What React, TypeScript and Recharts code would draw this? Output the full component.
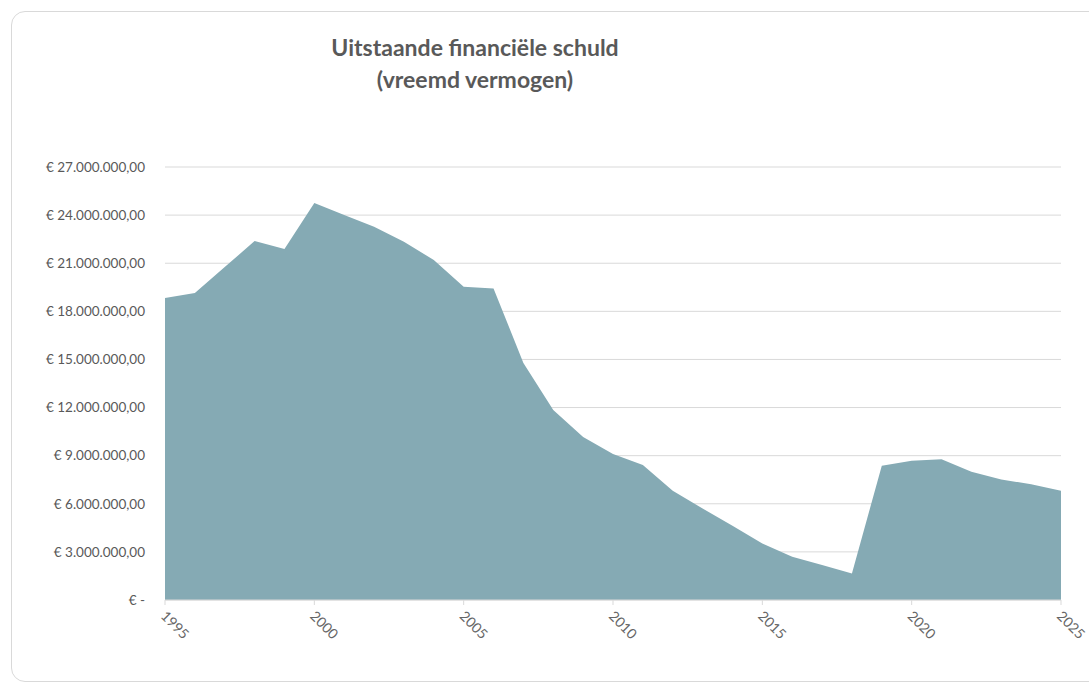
import { AreaChart, Area, XAxis, YAxis, CartesianGrid } from "recharts";

const years = [
    1995, 1996, 1997, 1998, 1999, 2000, 2001, 2002, 2003, 2004, 2005, 2006,
    2007, 2008, 2009, 2010, 2011, 2012, 2013, 2014, 2015, 2016, 2017, 2018,
    2019, 2020, 2021, 2022, 2023, 2024, 2025,
];

// uitstaande schuld in euro
const debt = [
    18830000, 19140000, 20760000, 22380000, 21880000, 24750000, 24000000,
    23270000, 22340000, 21200000, 19530000, 19430000, 14780000, 11850000,
    10160000, 9100000, 8420000, 6810000, 5710000, 4630000, 3530000, 2700000,
    2180000, 1660000, 8370000, 8690000, 8770000, 8000000, 7520000, 7210000,
    6810000,
];

const xTicks = [1995, 2000, 2005, 2010, 2015, 2020, 2025];
const yTicks = [
    0, 3000000, 6000000, 9000000, 12000000, 15000000, 18000000, 21000000,
    24000000, 27000000,
];

const data = years.map((y, i) => ({ year: y, value: debt[i] }));

const FONT = "Lato, 'Open Sans', sans-serif";

function euro(v: number) {
    if (v === 0) return "€ -";
    const s = String(Math.round(v)).replace(/\B(?=(\d{3})+(?!\d))/g, ".");
    return `€ ${s},00`;
}

function YearTick(props: any) {
    const { x, y, payload } = props;
    return (
        <text
            x={x - 5}
            y={y + 10}
            transform={`rotate(45, ${x - 5}, ${y + 10})`}
            fontSize={14}
            fill="#666666"
            fontFamily={FONT}
            textAnchor="start"
        >
            {payload.value}
        </text>
    );
}

export default function App() {
    return (
        <div style={{ position: "absolute", left: 0, top: 0, width: 1089, height: 687, overflow: "hidden", fontFamily: FONT }}>
            <div
                style={{
                    position: "absolute",
                    left: 11,
                    top: 11,
                    width: 1100,
                    height: 671,
                    border: "1.5px solid #d9d9d9",
                    borderRadius: 14,
                    boxSizing: "border-box",
                }}
            />
            <div
                style={{
                    position: "absolute",
                    left: 275,
                    top: 31,
                    width: 400,
                    textAlign: "center",
                    fontSize: 23,
                    fontWeight: 700,
                    color: "#595959",
                    lineHeight: "32px",
                }}
            >
                Uitstaande financiële schuld
                <br />
                (vreemd vermogen)
            </div>
            <div style={{ position: "absolute", left: 0, top: 0 }}>
                <AreaChart
                    width={1089}
                    height={687}
                    data={data}
                    margin={{ top: 167, right: 28, bottom: 27, left: 15 }}
                >
                    <CartesianGrid vertical={false} stroke="#d9d9d9" />
                    <XAxis
                        dataKey="year"
                        type="number"
                        domain={[1995, 2025]}
                        ticks={xTicks}
                        interval={0}
                        height={60}
                        stroke="#d9d9d9"
                        tickSize={5}
                        tick={<YearTick />}
                    />
                    <YAxis
                        type="number"
                        domain={[0, 27000000]}
                        ticks={yTicks}
                        interval={0}
                        width={150}
                        axisLine={false}
                        tickLine={false}
                        tickSize={0}
                        tickMargin={20}
                        tickFormatter={euro}
                        tick={{ fontSize: 13.5, fill: "#595959", fontFamily: FONT }}
                    />
                    <Area
                        type="linear"
                        dataKey="value"
                        stroke="none"
                        fill="#85AAB4"
                        fillOpacity={1}
                        isAnimationActive={false}
                    />
                </AreaChart>
            </div>
        </div>
    );
}
